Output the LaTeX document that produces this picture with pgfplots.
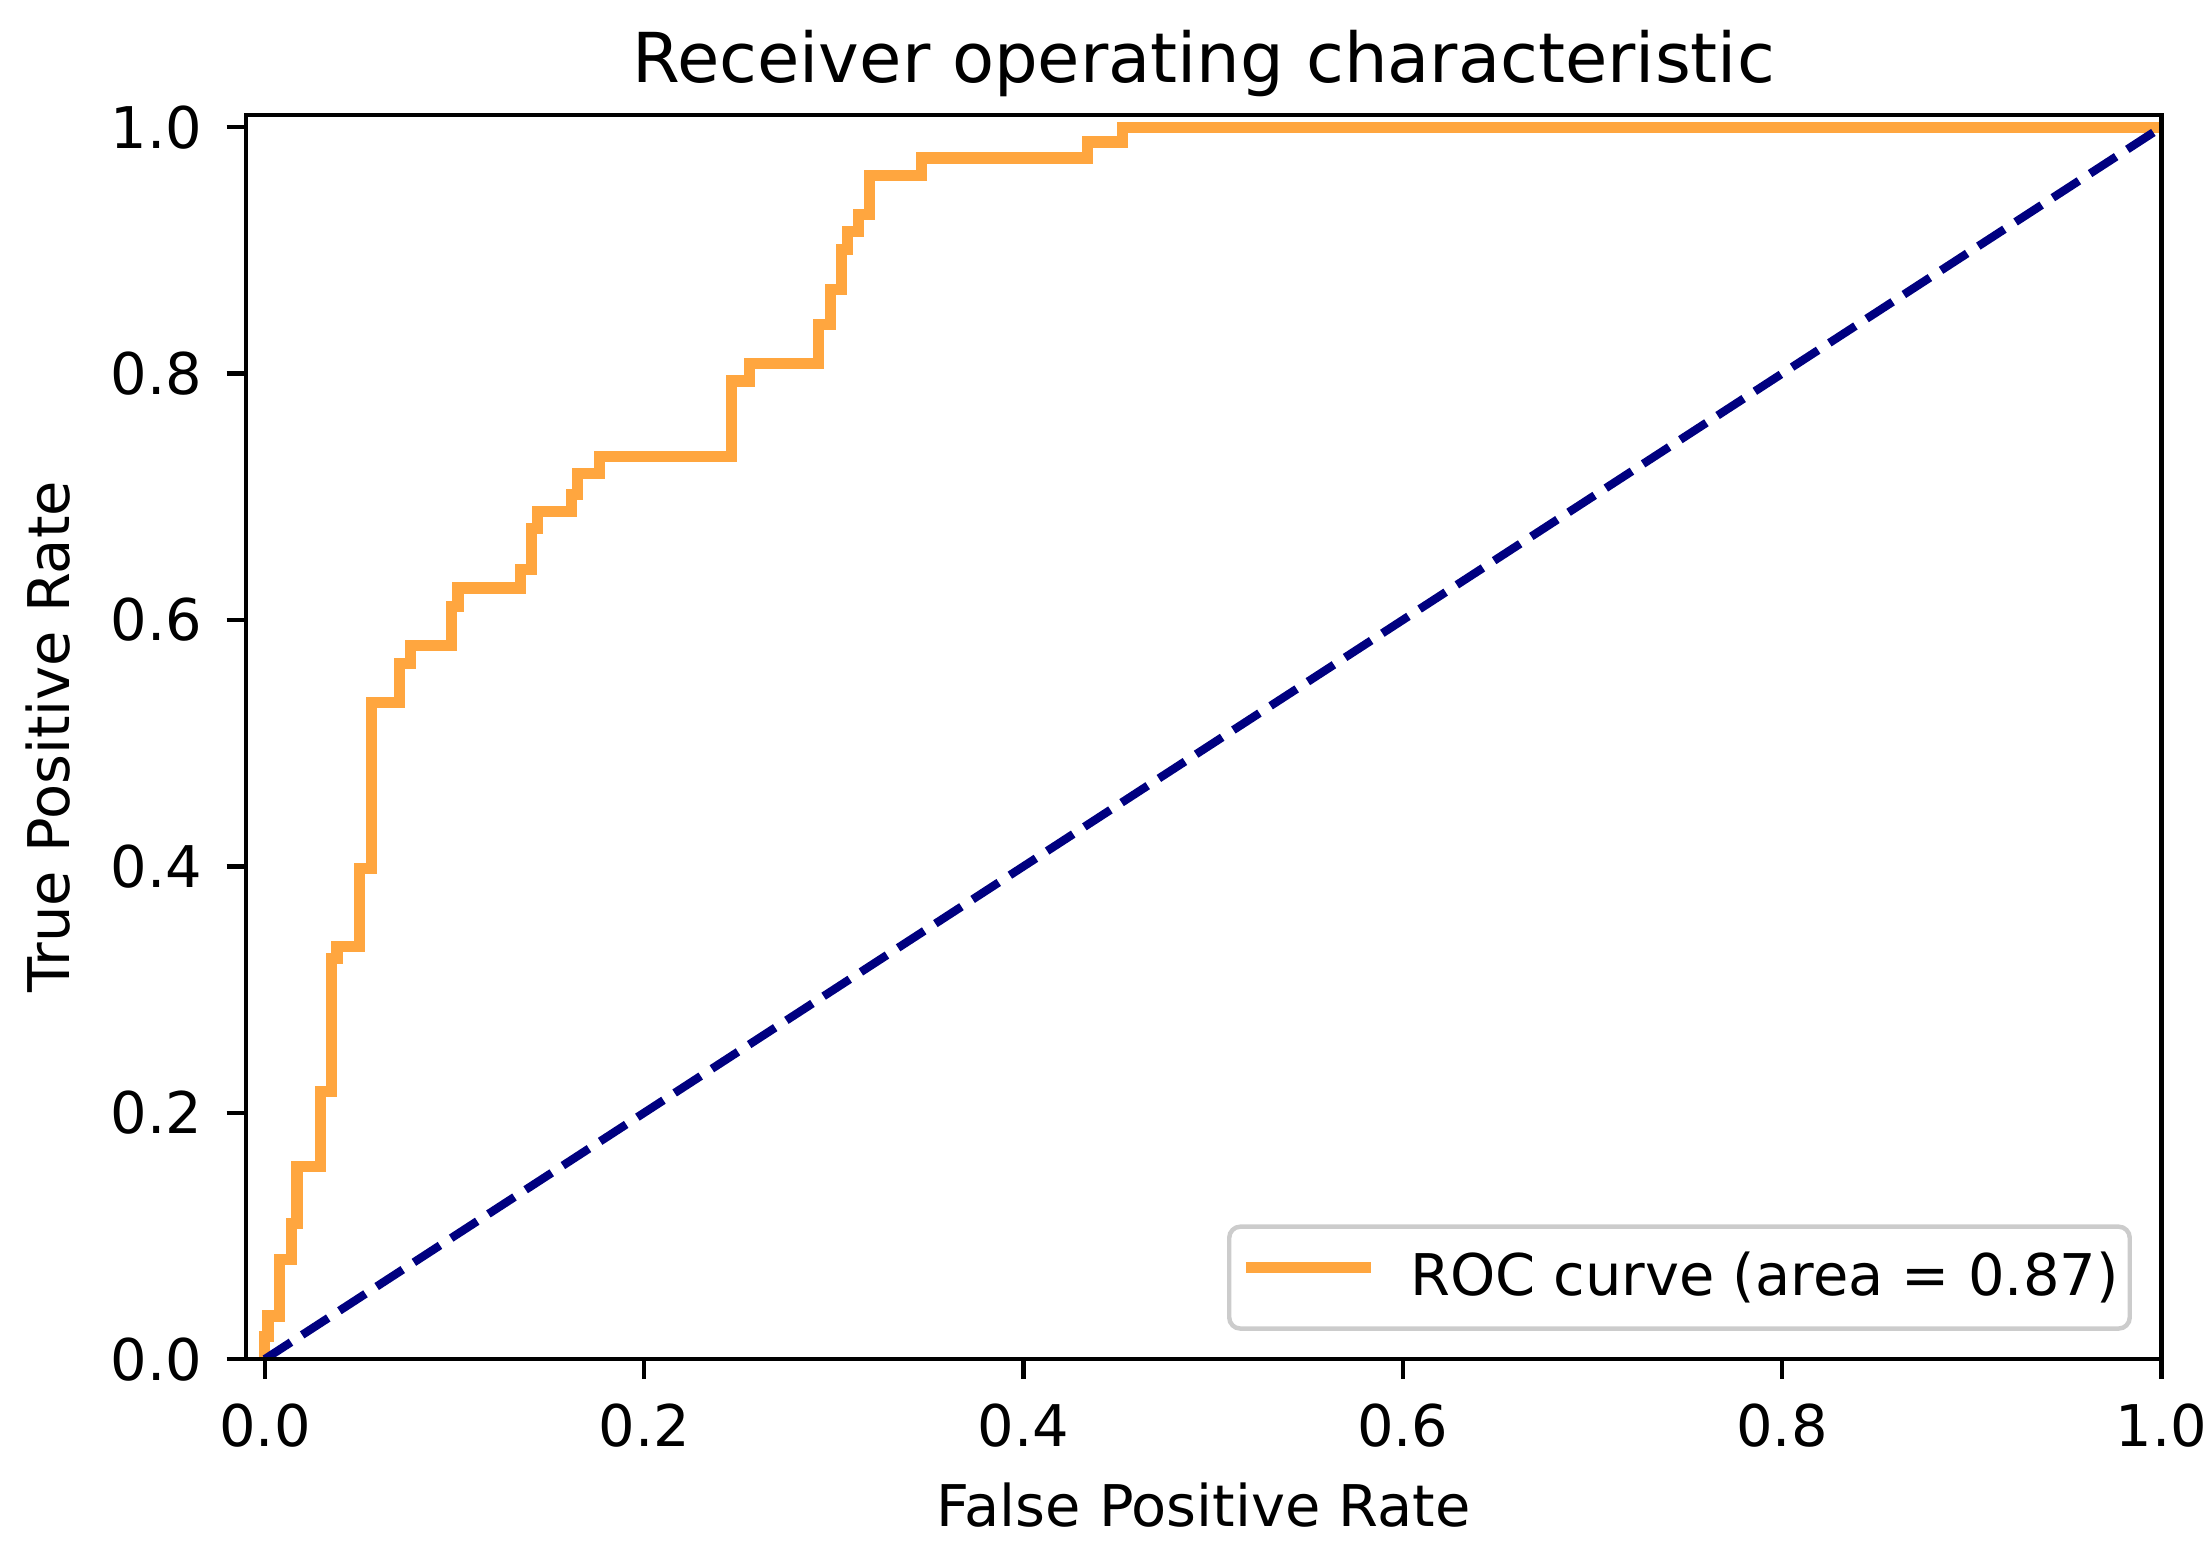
\documentclass[border=0pt]{standalone}
\usepackage{fontspec}
\setmainfont{DejaVu Sans}
\usepackage{pgfplots}
\pgfplotsset{compat=1.18}
\definecolor{rocorange}{RGB}{255,166,63}
\definecolor{navyc}{RGB}{0,0,128}
\definecolor{leggray}{RGB}{204,204,204}
\begin{document}
\begin{tikzpicture}
\begin{axis}[
  width=345pt, height=224.1pt, scale only axis,
  xmin=-0.01, xmax=1.0, ymin=0, ymax=1.01,
  xtick={0,0.2,0.4,0.6,0.8,1.0},
  xticklabels={0.0,0.2,0.4,0.6,0.8,1.0},
  ytick={0,0.2,0.4,0.6,0.8,1.0},
  yticklabels={0.0,0.2,0.4,0.6,0.8,1.0},
  xtick pos=bottom, ytick pos=left,
  /pgf/number format/assume math mode=true,
  tick align=outside, major tick length=3.5pt,
  tick style={line width=0.8pt, black},
  axis line style={line width=0.8pt, black},
  axis on top=true,
  tick label style={font=\fontsize{10.35}{12}\selectfont},
  xticklabel style={anchor=north, yshift=-1.1pt},
  yticklabel style={anchor=east, xshift=-0.9pt},
  title={Receiver operating characteristic},
  title style={font=\fontsize{12.4}{14}\selectfont, at={(axis description cs:0.5,1)}, anchor=base, yshift=-0.1pt},
  xlabel={False Positive Rate},
  ylabel={True Positive Rate},
  label style={font=\fontsize{10.35}{12}\selectfont},
  xlabel style={at={(axis description cs:0.5,-0.1348)}, anchor=base},
  ylabel style={at={(axis description cs:0,0.5)}, anchor=base, yshift=31.7pt},
  legend style={at={(axis description cs:1,0)}, anchor=south east, xshift=-5.3pt, yshift=5.1pt,
    draw=leggray, line width=0.8pt, rounded corners=2pt, fill=white, fill opacity=0.8, text opacity=1,
    font=\fontsize{10.35}{12}\selectfont, inner xsep=2pt, inner ysep=4.5pt,
    nodes={inner sep=0pt}, column sep=6.1pt},
  legend cell align=left,
  legend image code/.code={\draw[#1, line width=2pt] (0pt,1.8pt) -- (22.5pt,1.8pt);},
]
\addplot[rocorange, line width=2pt] coordinates {
(0,0) (0,0.018) (0.0016,0.018) (0.0016,0.035) (0.0077,0.035) (0.0077,0.081)
(0.0139,0.081) (0.0139,0.110) (0.0169,0.110) (0.0169,0.156) (0.0292,0.156)
(0.0292,0.217) (0.035,0.217) (0.035,0.325) (0.038,0.325) (0.038,0.335)
(0.050,0.335) (0.050,0.398) (0.056,0.398) (0.056,0.533) (0.0712,0.533)
(0.0712,0.565) (0.077,0.565) (0.077,0.579) (0.0983,0.579) (0.0983,0.611)
(0.1018,0.611) (0.1018,0.626) (0.1348,0.626) (0.1348,0.641) (0.1407,0.641)
(0.1407,0.674) (0.1436,0.674) (0.1436,0.688) (0.1615,0.688) (0.1615,0.702)
(0.165,0.702) (0.165,0.719) (0.1766,0.719) (0.1766,0.733) (0.2462,0.733)
(0.2462,0.794) (0.2557,0.794) (0.2557,0.808) (0.2918,0.808) (0.2918,0.840)
(0.298,0.840) (0.298,0.868) (0.304,0.868) (0.304,0.901) (0.307,0.901)
(0.307,0.915) (0.3128,0.915) (0.3128,0.929) (0.319,0.929) (0.319,0.961)
(0.346,0.961) (0.346,0.975) (0.4337,0.975) (0.4337,0.988) (0.452,0.988)
(0.452,1.0) (1.0,1.0)
};
\addlegendentry{ROC curve (area = 0.87)\hspace{1.5pt}}
\addplot[navyc, line width=1.5pt, dash pattern=on 5.6pt off 2.4pt, forget plot] coordinates {(0,0) (1,1)};
\end{axis}
\pgfresetboundingbox
\path ([shift={(-44.3pt,-32.9pt)}]current axis.south west) rectangle ([shift={(8.4pt,20.7pt)}]current axis.north east);
\end{tikzpicture}
\end{document}
